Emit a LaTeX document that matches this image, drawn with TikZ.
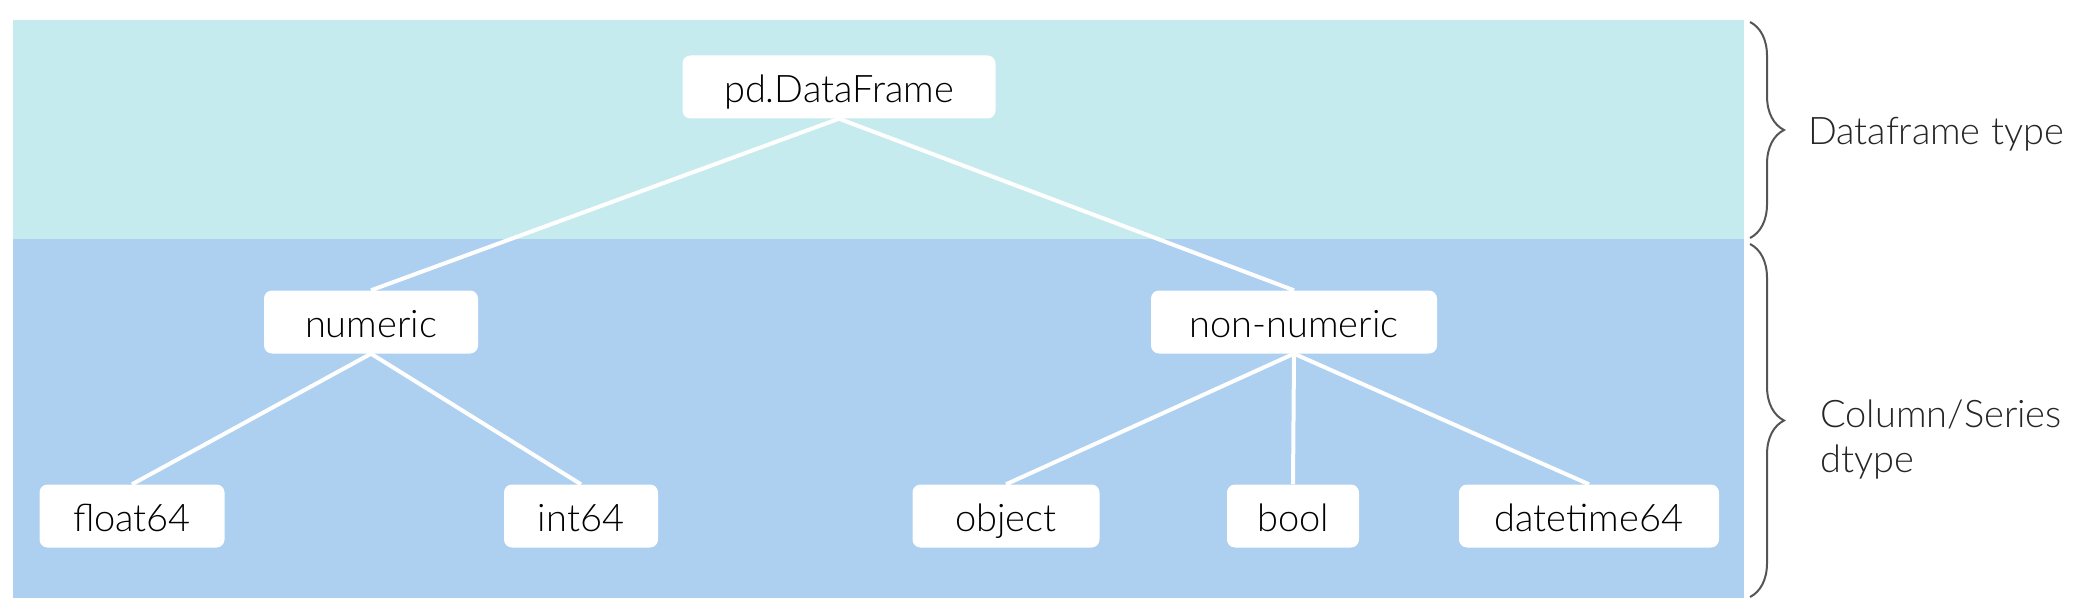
\documentclass[tikz,border=0pt]{standalone}
\usepackage{fontspec}
\setmainfont{Lato}[UprightFont=* Light]
\usetikzlibrary{decorations.pathreplacing}
\definecolor{topband}{HTML}{C5EBEE}
\definecolor{botband}{HTML}{ADCFF0}
\definecolor{bracegray}{HTML}{555555}
\tikzset{
  box/.style={fill=white, rounded corners=8pt, inner sep=0pt, minimum height=63pt, text height=31pt, text depth=0pt, font=\fontsize{38}{44}\selectfont, text=black},
  link/.style={white, line width=4pt},
  bracel/.style={draw=bracegray, line width=2pt, decorate, decoration={brace, amplitude=34pt}},
  lbl/.style={font=\fontsize{38}{45}\selectfont, text=black!85, inner sep=0pt, align=left}
}
\begin{document}
\begin{tikzpicture}[x=1pt, y=-1pt]
\useasboundingbox (0,0) rectangle (2084,612);
\fill[topband] (13,20) rectangle (1744,239);
\fill[botband] (13,239) rectangle (1744,598);
\node[box, minimum width=313pt] (df) at (839,87) {pd.DataFrame};
\node[box, minimum width=214pt] (num) at (371,322) {numeric};
\node[box, minimum width=286pt] (non) at (1294,322) {non-numeric};
\node[box, minimum width=185pt] (flt) at (132,516) {float64};
\node[box, minimum width=154pt] (int) at (581,516) {int64};
\node[box, minimum width=187pt] (obj) at (1006,516) {object};
\node[box, minimum width=132pt] (bool) at (1293,516) {bool};
\node[box, minimum width=260pt] (dt) at (1589,516) {datetime64};
\draw[link] (df.south) -- (num.north);
\draw[link] (df.south) -- (non.north);
\draw[link] (num.south) -- (flt.north);
\draw[link] (num.south) -- (int.north);
\draw[link] (non.south) -- (obj.north);
\draw[link] (non.south) -- (bool.north);
\draw[link] (non.south) -- (dt.north);
\coordinate (b1a) at (1750,22);
\coordinate (b1b) at (1750,238);
\coordinate (b2a) at (1750,244);
\coordinate (b2b) at (1750,597);
\draw[bracel] (b1a) -- (b1b);
\draw[bracel] (b2a) -- (b2b);
\node[lbl, anchor=west] (l1) at (1808,134) {Dataframe type};
\node[lbl, anchor=west] (l2) at (1820,440) {Column/Series\\dtype};
\end{tikzpicture}
\end{document}
